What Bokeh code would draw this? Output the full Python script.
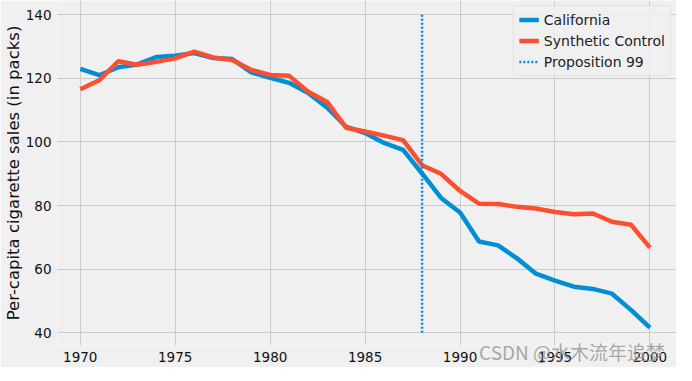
from bokeh.plotting import figure
from bokeh.models import Range1d, ColumnDataSource, Legend, LinearAxis, FixedTicker
from bokeh.embed import file_html
from bokeh.resources import INLINE

# ---- data ----
years = list(range(1970, 2001))
california = [123.0, 121.0, 123.5, 124.4, 126.7, 127.1, 128.0, 126.4, 126.1, 121.9,
              120.2, 118.6, 115.4, 110.8, 104.8, 102.8, 99.7, 97.5, 90.1, 82.4,
              77.8, 68.7, 67.5, 63.4, 58.6, 56.4, 54.5, 53.8, 52.3, 47.2, 41.6]
synthetic = [116.6, 119.4, 125.4, 124.3, 125.2, 126.3, 128.4, 126.6, 125.8, 122.7,
             121.1, 120.8, 115.8, 112.6, 104.5, 103.3, 102.0, 100.6, 92.7, 90.0,
             84.6, 80.6, 80.5, 79.6, 79.1, 78.0, 77.3, 77.5, 74.9, 74.0, 66.8]
prop99_year = [1988]
prop99_ymin = [40]
prop99_ymax = [140]
x_ticks = [1970, 1975, 1980, 1985, 1990, 1995, 2000]
y_ticks = [40, 60, 80, 100, 120, 140]
y_label = "Per-capita cigarette sales (in packs)"
series_names = ["California", "Synthetic Control", "Proposition 99"]
watermark = "CSDN @水木流年追梦"

BG = "#f0f0f0"
BLUE = "#008fd5"
RED = "#fc4f30"

X_START, X_END = 1968.8, 2001.4
p = figure(width=676, height=367, output_backend="svg", toolbar_location=None,
           x_range=Range1d(X_START, X_END), y_range=Range1d(36.0, 144.5),
           background_fill_color=BG, border_fill_color=BG, outline_line_color=None,
           min_border_top=0, min_border_right=0, min_border_left=48, min_border_bottom=22)

src = ColumnDataSource(dict(year=years, ca=california, sc=synthetic))
vsrc = ColumnDataSource(dict(x=prop99_year, y0=prop99_ymin, y1=prop99_ymax))

r1 = p.line("year", "ca", source=src, line_color=BLUE, line_width=4.5)
r2 = p.line("year", "sc", source=src, line_color=RED, line_width=4.5)
r3 = p.segment(x0="x", y0="y0", x1="x", y1="y1", source=vsrc,
               line_color=BLUE, line_width=2.5, line_dash="2 2")

legend = Legend(items=[(series_names[0], [r1]), (series_names[1], [r2]), (series_names[2], [r3])],
                location="top_right")
legend.margin = 5
legend.padding = 5
legend.spacing = 4
legend.glyph_width = 20
legend.glyph_height = 17
legend.label_height = 17
legend.label_standoff = 5
legend.label_text_font = "DejaVu Sans"
legend.label_text_font_size = "14px"
legend.label_text_color = "#222222"
legend.background_fill_color = BG
legend.background_fill_alpha = 0.8
legend.border_line_color = "#d6d6d6"
legend.border_radius = 4
p.add_layout(legend)


def style_axis(ax):
    ax.axis_line_color = None
    ax.major_tick_line_color = None
    ax.minor_tick_line_color = None
    ax.major_tick_out = 0
    ax.major_tick_in = 0
    ax.minor_tick_out = 0
    ax.minor_tick_in = 0


for ax in (p.xaxis[0], p.yaxis[0]):
    style_axis(ax)
    ax.major_label_text_font = "DejaVu Sans"
    ax.major_label_text_font_size = "13.5px"
    ax.major_label_text_color = "#111111"
    ax.major_label_standoff = 6

p.xaxis[0].ticker = x_ticks
p.yaxis[0].ticker = y_ticks
p.yaxis[0].axis_label = y_label
p.yaxis[0].axis_label_text_font = "DejaVu Sans"
p.yaxis[0].axis_label_text_font_size = "16.5px"
p.yaxis[0].axis_label_text_font_style = "normal"
p.yaxis[0].axis_label_text_color = "#111111"
p.yaxis[0].axis_label_standoff = 0

# watermark: a second, label-only axis whose single label sits over the tick row
WM_POS = 1995.9
p.extra_x_ranges = {"wm": Range1d(X_START, X_END)}
wm_axis = LinearAxis(x_range_name="wm", ticker=FixedTicker(ticks=[WM_POS]),
                     major_label_overrides={WM_POS: watermark})
style_axis(wm_axis)
wm_axis.major_label_text_font = "Noto Sans CJK SC"
wm_axis.major_label_text_font_size = "19px"
wm_axis.major_label_text_color = "#999999"
wm_axis.major_label_text_alpha = 0.85
wm_axis.major_label_standoff = -27
p.add_layout(wm_axis, "below")

p.xgrid.grid_line_color = "#cbcbcb"
p.ygrid.grid_line_color = "#cbcbcb"
p.xgrid.grid_line_width = 1
p.ygrid.grid_line_width = 1

open("out.html", "w").write(file_html(p, INLINE))
